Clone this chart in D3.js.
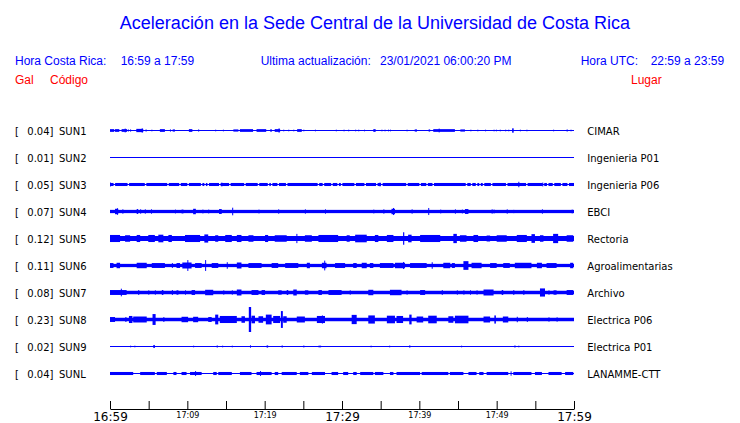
<!DOCTYPE html>
<html><head><meta charset="utf-8">
<script src="https://cdn.jsdelivr.net/npm/d3@7"></script>
<style>html,body{margin:0;padding:0;background:#fff;}svg{display:block;}</style>
</head><body>
<svg id="chart" width="740" height="423"></svg>
<script>
// ---------- data ----------
const stations = ["SUN1","SUN2","SUN3","SUN4","SUN5","SUN6","SUN7","SUN8","SUN9","SUNL"];
const peaks    = [0.04,0.01,0.05,0.07,0.12,0.11,0.08,0.23,0.02,0.04];
const places   = ["CIMAR","Ingenieria P01","Ingenieria P06","EBCI","Rectoria","Agroalimentarias","Archivo","Electrica P06","Electrica P01","LANAMME-CTT"];
const bandAmp  = [0,0,0.028,0.03,0.046,0.03,0.032,0.032,0,0];   // gal, continuous noise band
const tickMinutes = [0,5,10,15,20,25,30,35,40,45,50,55,60];
const tickLabels  = ["16:59","","17:09","","17:19","","17:29","","17:39","","17:49","","17:59"];
const majorLabels = ["16:59","17:29","17:59"];

// bursts: [start minute, end minute, half amplitude gal]
const burstsSUN1 = [[0,0.55,.025],[0.65,1.2,.025],[1.5,2.2,.025],[1.9,2.0,.035],[2.3,2.42,.02],[2.6,2.72,.02],[3.4,4.3,.03],[4.1,4.22,.04],[4.6,4.72,.02],[5.35,5.47,.015],[6.45,7.1,.025],[7.75,7.87,.02],[8.1,8.4,.02],[10.2,10.65,.025],[11.4,11.52,.02],[13.6,13.72,.015],[14.6,14.72,.015],[15.95,16.6,.02],[16.8,18.5,.025],[18.95,20.2,.025],[20.7,20.95,.02],[21.3,22,.025],[21.8,21.92,.04],[22.4,22.52,.015],[23.05,23.17,.015],[23.7,23.82,.015],[24.2,24.8,.025],[25,25.12,.015],[26.5,26.62,.015],[29.2,29.32,.015],[30.2,30.32,.015],[30.8,30.92,.015],[31.7,31.82,.015],[32.1,32.22,.015],[32.85,32.97,.015],[34.05,34.35,.025],[35.1,35.22,.015],[35.5,35.62,.015],[35.95,36.07,.015],[36.2,36.32,.015],[38.35,38.47,.015],[39.4,39.7,.02],[41.2,41.4,.02],[41.8,44.6,.025],[42.5,42.62,.035],[45.3,45.9,.02],[46.6,46.72,.015],[47.5,47.62,.015],[48.5,48.62,.015],[49.6,49.72,.015],[49.9,50.02,.015],[50.4,50.52,.015],[51.1,51.22,.015],[51.5,51.62,.015],[52,52.2,.04],[53,53.12,.015],[53.85,53.97,.015],[57.3,57.42,.015],[59.05,59.17,.02],[59.55,59.67,.015]];
const burstsSUN2 = [];
const burstsSUN3 = [[0,0.12,.035],[14.4,14.52,.035],[34.85,34.97,.035],[52.8,52.92,.05],[55.9,56.02,.035]];
const gapsSUN3 = [0.56,2.37,4.6,7.5,9.05,10.1,11.85,12.3,12.7,14.2,15.5,17.45,19.2,20.5,20.9,21.75,22.85,26.95,27.6,28.7,29.5,29.95,31.7,33,34.5,35.15,38.4,40.1,41,41.8,46.1,46.75,47.4,47.85,48.3,49.35,51.3,53.9,56.05,56.6,57.35,58.4,59.25];
const burstsSUN4 = [[0.65,1.07,.05],[0.9,1.02,.06],[1.6,1.72,.04],[3.45,3.65,.045],[3.9,4.02,.04],[4.5,4.62,.04],[5.3,5.42,.04],[8.4,8.52,.035],[9.25,9.5,.035],[10.75,11.1,.05],[11.95,12.07,.035],[12.7,12.82,.035],[14.1,14.45,.045],[15.8,15.92,.07],[19.2,19.32,.035],[21.75,21.87,.04],[25.2,25.32,.04],[27.8,27.92,.04],[34.05,34.17,.035],[35.35,35.47,.04],[36.4,36.85,.05],[36.6,36.72,.065],[39,39.12,.04],[41.15,41.27,.065],[42.7,42.82,.035],[44.6,44.72,.04],[45.5,45.62,.035],[45.9,46.35,.045],[49.35,49.47,.04],[49.6,49.72,.035],[51.3,51.42,.04],[52.15,52.27,.03],[55.85,55.97,.04],[59.7,59.82,.035]];
const burstsSUN5 = [[0,1.3,.065],[1.95,2.6,.06],[3.45,3.9,.065],[4.95,5.8,.065],[6.25,6.9,.07],[7.55,8,.065],[9.7,11.65,.065],[12.2,12.7,.075],[13.6,14,.06],[14.9,15.75,.065],[16.4,17,.065],[17.9,18.55,.06],[20.05,20.45,.065],[21.3,22.85,.06],[24.1,24.22,.085],[25.2,26.1,.06],[26.95,29.5,.065],[30.6,31,.06],[31.7,33.2,.07],[34.25,34.7,.065],[35.8,36.65,.065],[37.9,38.05,.115],[38.55,39,.07],[40.1,42.7,.065],[44.4,44.85,.085],[45.25,46.1,.06],[47,47.6,.065],[48.7,49.15,.055],[50,51.3,.06],[52.6,53.9,.065],[54.5,54.95,.08],[55.6,56.05,.06],[57.3,57.95,.085],[59.05,59.9,.06]];
const burstsSUN6 = [[0,0.45,.045],[0.85,1.3,.05],[3.45,4.75,.05],[5.4,7.1,.045],[8,8.12,.045],[8.6,9.05,.045],[9.35,10.55,.055],[10,10.12,.1],[11,11.85,.045],[12.3,12.42,.1],[13.15,14,.045],[15.1,15.22,.06],[16.4,17,.055],[17.9,19.6,.045],[20.9,21.75,.045],[22.65,24.35,.045],[25.45,25.85,.05],[27.4,28,.05],[27.7,27.82,.09],[29.1,30.4,.045],[31.45,31.9,.045],[32.55,33.2,.05],[33.6,34.05,.045],[34.9,36.65,.045],[36.85,38.15,.05],[37.9,38.02,.065],[38.8,40.95,.045],[41.6,41.72,.06],[43.1,44,.05],[44.2,44.6,.045],[45.7,46.35,.08],[46.75,48.05,.05],[49.15,50,.045],[50.85,51.7,.045],[52.35,54.5,.05],[55.2,55.85,.05],[56.45,57.75,.045],[59.5,59.9,.05]];
const burstsSUN7 = [[0,2.15,.045],[1.4,1.52,.07],[3.65,3.77,.045],[4.95,5.07,.04],[5.8,5.92,.04],[6.7,6.9,.045],[8,8.12,.045],[8.6,8.85,.04],[9.7,9.82,.04],[10.55,11,.045],[12.3,13.35,.05],[14.65,14.77,.04],[15.75,15.87,.04],[16.4,17,.055],[18.3,19.2,.045],[19.6,20.05,.045],[21.75,22.2,.04],[22.85,23.05,.045],[23.7,24.15,.055],[25.2,25.65,.04],[26.95,27.4,.045],[28.25,29.95,.045],[31,31.12,.04],[33.4,34.05,.05],[36.2,37.7,.05],[38.35,38.47,.04],[40.1,40.75,.045],[42.9,43.02,.045],[44.85,44.97,.04],[45.7,45.82,.04],[46.55,46.67,.04],[47.4,47.52,.04],[48.3,49.6,.055],[50.65,50.85,.045],[52.15,52.27,.045],[53.45,53.57,.045],[55.6,56.25,.075],[56.7,56.82,.04],[57.35,57.75,.04],[59.05,59.9,.045]];
const burstsSUN8 = [[0,0.65,.045],[1.95,2.15,.04],[2.45,2.9,.065],[3,4.75,.055],[5.5,5.9,.1],[6.9,7.02,.045],[9.25,10.1,.05],[10.75,11.4,.05],[12.7,13.15,.045],[13.6,14,.09],[14.2,16.4,.065],[17,17.45,.06],[17.95,18.25,.23],[18.3,18.75,.07],[19.2,19.8,.06],[20.15,20.9,.09],[21.1,22,.065],[22.1,22.35,.155],[22.4,22.85,.06],[24.15,25.2,.055],[26.75,27.8,.065],[27.4,27.52,.075],[31.25,31.9,.085],[33.4,34.25,.075],[35.8,36.85,.07],[37.05,37.9,.065],[38.7,39,.09],[39.65,40.5,.055],[41.15,42.25,.07],[43.75,44.4,.06],[44.6,46.35,.07],[48.3,49.15,.055],[49.7,49.9,.075],[50.8,51.5,.055],[52.6,52.72,.05],[53.9,54.02,.045],[56.7,56.82,.04],[57.75,57.87,.04]];
const burstsSUN9 = [[2.6,2.72,.015],[3.15,3.27,.015],[5.6,5.8,.028],[10.75,10.87,.015],[13.8,13.92,.02],[14.5,14.62,.015],[15.75,15.87,.015],[18.1,18.22,.022],[20.25,20.45,.02],[22.2,22.32,.02],[25,25.12,.018],[26.95,27.3,.015],[33.7,33.82,.015],[36.1,36.22,.015],[38.7,38.82,.022],[45.4,45.52,.015],[52.3,52.42,.02],[52.8,52.92,.015]];
const burstsSUNL = [[0,3,.028],[3.9,5.8,.028],[6.05,7.35,.028],[8.2,8.6,.028],[9.25,9.9,.028],[10.35,11.85,.028],[11,11.12,.045],[13.35,13.8,.028],[14,15.75,.028],[16.8,18.3,.028],[18.95,20.9,.028],[19.4,19.52,.045],[21.3,21.75,.028],[22.2,24.15,.028],[24.55,25.65,.028],[26.1,27.8,.028],[28.65,29.5,.028],[30.15,30.8,.028],[31.45,31.9,.028],[32.35,34.05,.028],[34.25,35.35,.028],[36.2,36.65,.028],[37.05,40.1,.028],[40.3,43.75,.028],[43.95,45.7,.028],[46.35,47.4,.028],[47.75,48.3,.028],[48.7,51.5,.028],[51.8,51.92,.04],[52.15,54.5,.028],[54.95,55.85,.028],[56.7,58.4,.028],[58.85,59.9,.028]];
const bursts = [burstsSUN1,burstsSUN2,burstsSUN3,burstsSUN4,burstsSUN5,burstsSUN6,burstsSUN7,burstsSUN8,burstsSUN9,burstsSUNL];
const gaps = {SUN3: gapsSUN3};

// ---------- drawing ----------
const BLUE = "#0000ff", RED = "#ff0000";
const HEAD = "'Liberation Sans', Arial, sans-serif";
const MONO = "'DejaVu Sans', sans-serif";
const svg = d3.select("#chart");

const x = d3.scaleLinear().domain([0,60]).range([110,574]);
const yRow = d3.scalePoint().domain(stations).range([130.5,373.5]);
const amp = d3.scaleLinear().domain([0,0.23]).range([0,12.5]);

// header
svg.append("text").attr("x",375).attr("y",29).attr("text-anchor","middle")
  .attr("font-family",HEAD).attr("font-size",18).attr("fill",BLUE)
  .text("Aceleración en la Sede Central de la Universidad de Costa Rica");
const hdr = [
  [15,65,"Hora Costa Rica:",BLUE],[120.7,65,"16:59 a 17:59",BLUE],
  [260.7,65,"Ultima actualización:",BLUE],[380,65,"23/01/2021 06:00:20 PM",BLUE],
  [580.7,65,"Hora UTC:",BLUE],[650.7,65,"22:59 a 23:59",BLUE],
  [15,84,"Gal",RED],[50,84,"Código",RED],[631,84,"Lugar",RED]
];
svg.selectAll("text.hdr").data(hdr).join("text").attr("class","hdr")
  .attr("x",d=>d[0]).attr("y",d=>d[1]).attr("fill",d=>d[3])
  .attr("font-family",HEAD).attr("font-size",12).text(d=>d[2]);

// traces
stations.forEach((s,i)=>{
  const g = svg.append("g");
  const cy = yRow(s);
  // thin base line
  g.append("rect").attr("x",x(0)).attr("width",x(60)-x(0))
    .attr("y",cy-0.5).attr("height",1).attr("fill",BLUE);
  // continuous band (minus gaps)
  if (bandAmp[i] > 0) {
    const gp = (gaps[s]||[]).slice().sort((a,b)=>a-b);
    const segs = [];
    let start = 0;
    gp.forEach(c=>{ segs.push([start, c-0.1]); start = c+0.1; });
    segs.push([start,60]);
    g.selectAll("rect.band").data(segs).join("rect").attr("class","band")
      .attr("x",d=>x(d[0])).attr("width",d=>Math.max(0,x(d[1])-x(d[0])))
      .attr("y",cy-amp(bandAmp[i])).attr("height",2*amp(bandAmp[i]))
      .attr("fill",BLUE);
  }
  g.selectAll("rect.burst").data(bursts[i]).join("rect").attr("class","burst")
    .attr("x",d=>x(d[0])).attr("width",d=>Math.max(1,x(d[1])-x(d[0])))
    .attr("y",d=>cy-amp(d[2])).attr("height",d=>2*amp(d[2]))
    .attr("fill",BLUE);

  // left labels
  svg.append("text").attr("x",15).attr("y",cy+4).attr("font-family",MONO)
    .attr("font-size",10).attr("fill","#000").text("[");
  svg.append("text").attr("x",53.5).attr("y",cy+4).attr("text-anchor","end").attr("font-family",MONO)
    .attr("font-size",10).attr("fill","#000").text(peaks[i].toFixed(2)+"]");
  svg.append("text").attr("x",59).attr("y",cy+4).attr("font-family",MONO)
    .attr("font-size",10).attr("fill","#000").text(s);
  svg.append("text").attr("x",587.3).attr("y",cy+4).attr("font-family",MONO)
    .attr("font-size",10).attr("fill","#000").text(places[i]);
});

// time axis
const axis = d3.axisBottom(x).tickValues(tickMinutes).tickSize(-8).tickSizeOuter(0)
  .tickFormat((d,i)=>tickLabels[i]);
const ag = svg.append("g").attr("transform","translate(0,409)").call(axis);
ag.select(".domain").attr("stroke","#000");
ag.selectAll(".tick line").attr("stroke","#000");
ag.selectAll(".tick text").attr("fill","#000").attr("font-family",MONO)
  .attr("font-size",(d,i)=>majorLabels.includes(tickLabels[i])?12:8);
</script>
</body></html>
